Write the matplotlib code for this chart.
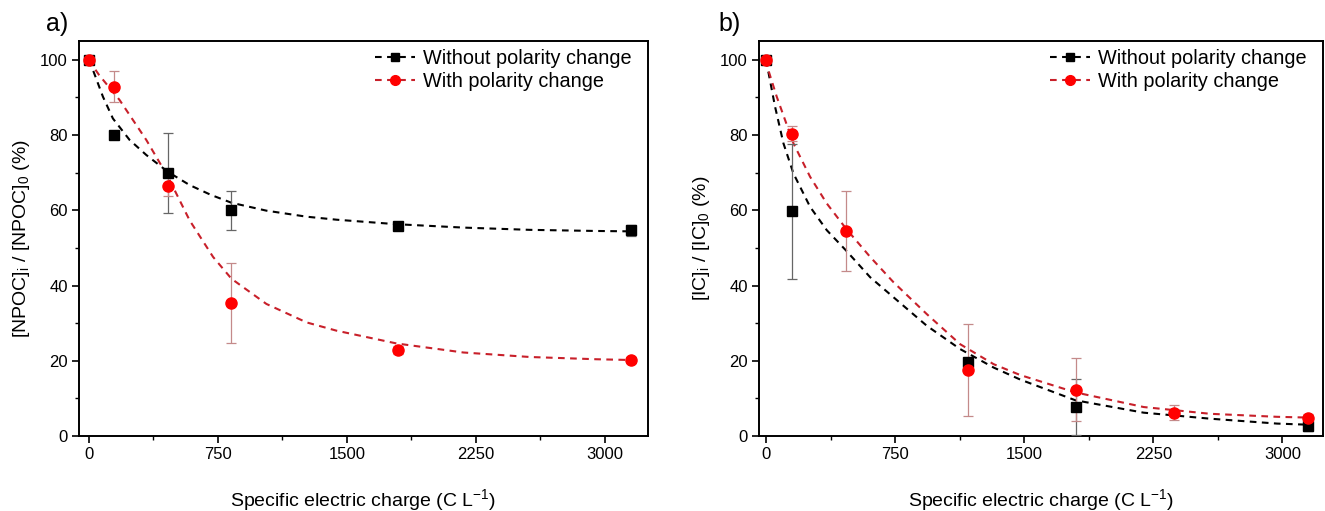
import matplotlib
matplotlib.use("Agg")
import matplotlib.pyplot as plt
from matplotlib.ticker import MultipleLocator

plt.rcParams["font.family"] = ["Liberation Sans", "DejaVu Sans"]
plt.rcParams["mathtext.fontset"] = "custom"
plt.rcParams["mathtext.rm"] = "Liberation Sans"
plt.rcParams["mathtext.it"] = "Liberation Sans:italic"

# ---- panel a) NPOC ----
a_x_without = [0, 150, 460, 826, 1795, 3150]
a_y_without = [100, 80.0, 69.9, 60.0, 55.8, 54.7]
a_e_without = [0.5, 0.6, 10.7, 5.2, 0.7, 1.5]
a_x_with = [0, 150, 460, 826, 1795, 3150]
a_y_with = [100, 92.9, 66.5, 35.3, 22.8, 20.2]
a_e_with = [0.5, 4.1, 2.8, 10.7, 1.0, 0.8]

# fitted curves
a_fit_x_without = [0, 25, 83, 141, 238, 335, 461, 587, 710, 830, 1033, 1266, 1440, 1789, 2177, 2564, 2952, 3150]
a_fit_y_without = [100, 97.3, 90.2, 84.4, 78.7, 74.7, 70.2, 66.7, 64.1, 62.0, 59.9, 58.3, 57.5, 56.3, 55.4, 54.8, 54.5, 54.4]
a_fit_x_with = [0, 60, 180, 335, 461, 587, 723, 830, 1033, 1266, 1440, 1789, 2177, 2564, 2952, 3150]
a_fit_y_with = [100, 96.0, 89.3, 78.7, 68.9, 57.3, 47.6, 41.8, 35.1, 30.2, 28.0, 24.6, 22.2, 21.0, 20.4, 20.2]

# ---- panel b) IC ----
b_x_without = [0, 153, 1172, 1798, 3150]
b_y_without = [100, 59.7, 19.7, 7.7, 2.7]
b_e_without = [0.5, 18.0, 0.8, 7.5, 1.3]
b_x_with = [0, 153, 465, 1172, 1798, 2368, 3150]
b_y_with = [100, 80.4, 54.5, 17.6, 12.3, 6.2, 4.9]
b_e_with = [0.5, 2.0, 10.7, 12.2, 8.4, 2.0, 1.0]

b_fit_x_without = [0, 13, 52, 101, 159, 256, 353, 465, 605, 740, 934, 1128, 1322, 1477, 1797, 2194, 2581, 2969, 3150]
b_fit_y_without = [100, 96.9, 87.6, 77.8, 69.8, 60.9, 54.7, 49.3, 42.2, 36.9, 29.3, 23.1, 18.2, 15.0, 9.5, 6.2, 4.6, 3.3, 3.0]
b_fit_x_with = [0, 13, 62, 159, 256, 353, 465, 605, 740, 934, 1128, 1322, 1477, 1797, 2194, 2581, 2969, 3150]
b_fit_y_with = [100, 97.3, 90.2, 77.8, 68.9, 61.8, 55.1, 47.6, 40.9, 32.4, 24.4, 19.1, 16.2, 11.6, 7.7, 5.9, 5.1, 4.9]

label_without = "Without polarity change"
label_with = "With polarity change"

W, H = 1325, 511
fig = plt.figure(figsize=(W / 100, H / 100), dpi=100)
ax_a = fig.add_axes([79 / W, 1 - 436 / H, (648 - 79) / W, (436 - 41) / H])
ax_b = fig.add_axes([759 / W, 1 - 436 / H, (1323 - 759) / W, (436 - 41) / H])

red_line = "#c8202a"
red_mark = "#ff0000"
dash = (0, (3.2, 2.6))


def draw(ax, xw, yw, ew, xr, yr, er, fxw, fyw, fxr, fyr):
    ax.plot(fxw, fyw, color="black", lw=1.5, ls=dash, zorder=2)
    ax.plot(fxr, fyr, color=red_line, lw=1.5, ls=dash, zorder=2)
    ax.errorbar(xw, yw, yerr=ew, fmt="none", ecolor="#666666", elinewidth=0.9,
                capsize=3.5, capthick=0.9, zorder=3)
    ax.errorbar(xr, yr, yerr=er, fmt="none", ecolor="#c48a8a", elinewidth=0.9,
                capsize=3.5, capthick=0.9, zorder=3)
    ax.plot(xw, yw, "s", color="black", ms=7, zorder=4)
    ax.plot(xr, yr, "o", color=red_mark, ms=8, zorder=5)
    # legend proxies
    ax.plot([], [], color="black", lw=1.5, ls=dash, marker="s", ms=6, label=label_without)
    ax.plot([], [], color=red_line, lw=1.5, ls=dash, marker="o", mfc=red_mark,
            mec=red_mark, ms=7, label=label_with)
    ax.legend(loc="upper right", frameon=False, fontsize=14.3, handlelength=2.0,
              handletextpad=0.4, labelspacing=0.18, borderaxespad=0.0,
              bbox_to_anchor=(0.985, 1.0))

    ax.set_ylim(0, 105)
    ax.set_xticks([0, 750, 1500, 2250, 3000])
    ax.xaxis.set_minor_locator(MultipleLocator(375))
    ax.set_yticks([0, 20, 40, 60, 80, 100])
    ax.yaxis.set_minor_locator(MultipleLocator(10))
    ax.tick_params(which="major", direction="out", length=5, width=1.2,
                   labelsize=12, top=False, right=False, pad=3)
    ax.tick_params(which="minor", direction="out", length=3, width=1.0,
                   top=False, right=False)
    for s in ax.spines.values():
        s.set_linewidth(1.4)
    ax.set_xlabel("Specific electric charge (C L$^{\\mathrm{-1}}$)", fontsize=14, labelpad=18)


draw(ax_a, a_x_without, a_y_without, a_e_without, a_x_with, a_y_with, a_e_with,
     a_fit_x_without, a_fit_y_without, a_fit_x_with, a_fit_y_with)
ax_a.set_xlim(-56, 3250)
ax_a.set_ylabel("[NPOC]$_{\\mathrm{i}}$ / [NPOC]$_{\\mathrm{0}}$ (%)", fontsize=14, labelpad=6)

draw(ax_b, b_x_without, b_y_without, b_e_without, b_x_with, b_y_with, b_e_with,
     b_fit_x_without, b_fit_y_without, b_fit_x_with, b_fit_y_with)
ax_b.set_xlim(-41, 3236)
ax_b.set_ylabel("[IC]$_{\\mathrm{i}}$ / [IC]$_{\\mathrm{0}}$ (%)", fontsize=14, labelpad=6)

fig.text(46 / W, 1 - 24 / H, "a)", fontsize=18, va="center", ha="left")
fig.text(718 / W, 1 - 24 / H, "b)", fontsize=18, va="center", ha="left")

fig.savefig("out.png", dpi=100)
